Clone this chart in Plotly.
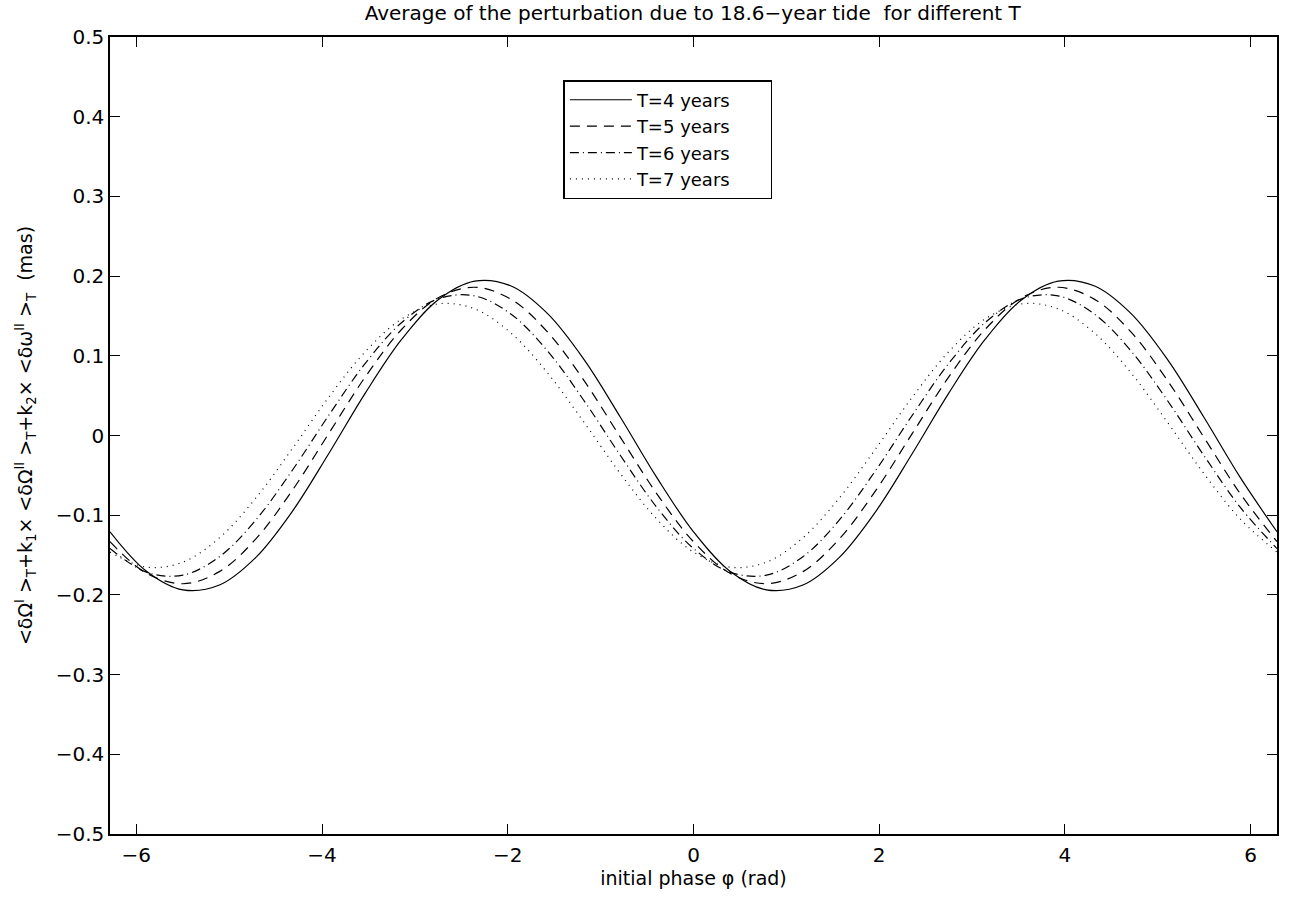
import plotly.graph_objects as go

# initial phase samples (rad), steps of pi/8 from -2pi to 2pi
phase = [-6.2832, -5.8905, -5.4978, -5.1051, -4.7124, -4.3197, -3.9270, -3.5343,
         -3.1416, -2.7489, -2.3562, -1.9635, -1.5708, -1.1781, -0.7854, -0.3927,
         0.0, 0.3927, 0.7854, 1.1781, 1.5708, 1.9635, 2.3562, 2.7489,
         3.1416, 3.5343, 3.9270, 4.3197, 4.7124, 5.1051, 5.4978, 5.8905, 6.2832]

t4 = [-0.1208, -0.1703, -0.1937, -0.1876, -0.1529, -0.0952, -0.0226, 0.0532,
      0.1208, 0.1703, 0.1937, 0.1876, 0.1529, 0.0952, 0.0226, -0.0532,
      -0.1208, -0.1703, -0.1937, -0.1876, -0.1529, -0.0952, -0.0226, 0.0532,
      0.1208, 0.1703, 0.1937, 0.1876, 0.1529, 0.0952, 0.0226, -0.0532, -0.1208]

t5 = [-0.1333, -0.1728, -0.1860, -0.1708, -0.1297, -0.0688, 0.0026, 0.0735,
      0.1333, 0.1728, 0.1860, 0.1708, 0.1297, 0.0688, -0.0026, -0.0735,
      -0.1333, -0.1728, -0.1860, -0.1708, -0.1297, -0.0688, 0.0026, 0.0735,
      0.1333, 0.1728, 0.1860, 0.1708, 0.1297, 0.0688, -0.0026, -0.0735, -0.1333]

t6 = [-0.1418, -0.1715, -0.1752, -0.1521, -0.1059, -0.0436, 0.0254, 0.0905,
      0.1418, 0.1715, 0.1752, 0.1521, 0.1059, 0.0436, -0.0254, -0.0905,
      -0.1418, -0.1715, -0.1752, -0.1521, -0.1059, -0.0436, 0.0254, 0.0905,
      0.1418, 0.1715, 0.1752, 0.1521, 0.1059, 0.0436, -0.0254, -0.0905, -0.1418]

t7 = [-0.1463, -0.1652, -0.1589, -0.1284, -0.0784, -0.0164, 0.0481, 0.1052,
      0.1463, 0.1652, 0.1589, 0.1284, 0.0784, 0.0164, -0.0481, -0.1052,
      -0.1463, -0.1652, -0.1589, -0.1284, -0.0784, -0.0164, 0.0481, 0.1052,
      0.1463, 0.1652, 0.1589, 0.1284, 0.0784, 0.0164, -0.0481, -0.1052, -0.1463]

series_names = ["T=4 years", "T=5 years", "T=6 years", "T=7 years"]
x_ticks = [-6, -4, -2, 0, 2, 4, 6]
y_ticks = [-0.5, -0.4, -0.3, -0.2, -0.1, 0, 0.1, 0.2, 0.3, 0.4, 0.5]

title_text = "Average of the perturbation due to 18.6\u2212year tide  for different T"
x_title = "initial phase \u03c6 (rad)"
y_title = ("&lt;\u03b4\u03a9<sup>I</sup> &gt;<sub>T</sub>+k<sub>1</sub>\u00d7 "
           "&lt;\u03b4\u03a9<sup>II</sup> &gt;<sub>T</sub>+k<sub>2</sub>\u00d7 "
           "&lt;\u03b4\u03c9<sup>II</sup> &gt;<sub>T</sub>  (mas)")

dashes = ["solid", "10px,7px", "9px,4px,1px,4px", "1px,5px"]
FONT = "DejaVu Sans, Liberation Sans, Arial, sans-serif"
PAD = "\u00a0" * 6

fig = go.Figure()
for name, ys, d in zip(series_names, [t4, t5, t6, t7], dashes):
    fig.add_trace(go.Scatter(
        x=phase, y=ys, mode="lines", name=name + PAD,
        line=dict(color="black", width=1.2, dash=d, shape="spline", smoothing=1.0),
    ))

axis_common = dict(
    showgrid=False, zeroline=False, showline=True, linecolor="black", linewidth=1.5,
    mirror="allticks", ticks="inside", ticklen=10, tickwidth=1, tickcolor="black",
    tickfont=dict(family=FONT, size=20, color="black"),
)

fig.update_layout(
    width=1290, height=899,
    paper_bgcolor="white", plot_bgcolor="white",
    margin=dict(l=110, r=13, t=37, b=65),
    font=dict(family=FONT, color="black"),
    title=dict(text=title_text, x=0.537, xanchor="center", y=1 - 13 / 899, yanchor="middle",
               yref="container", font=dict(family=FONT, size=20, color="black")),
    xaxis=dict(range=[-6.2832, 6.2832], tickvals=x_ticks, ticklabelstandoff=2,
               title=dict(text=x_title, standoff=0, font=dict(family=FONT, size=19)),
               **axis_common),
    yaxis=dict(range=[-0.5, 0.5], tickvals=y_ticks,
               title=dict(text=y_title, standoff=18, font=dict(family=FONT, size=19)),
               **axis_common),
    legend=dict(x=0.3885, y=0.946, xanchor="left", yanchor="top",
                bgcolor="white", bordercolor="black", borderwidth=1.5,
                font=dict(family=FONT, size=18, color="black"),
                tracegroupgap=0, itemwidth=62),
    showlegend=True,
)

fig.write_html("out.html", config={"displayModeBar": False},
               post_script="document.body.style.margin='0';")
